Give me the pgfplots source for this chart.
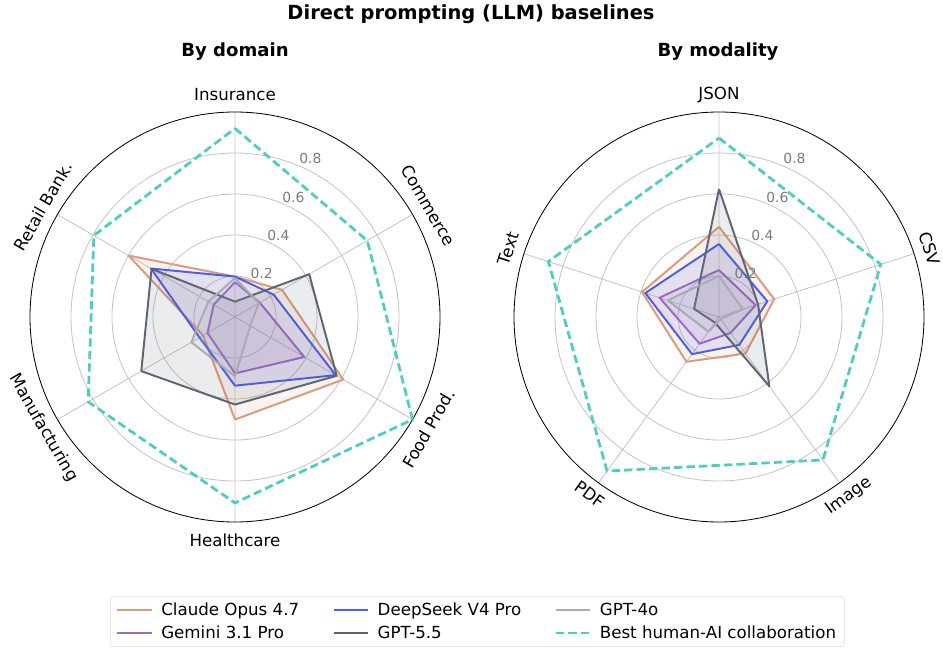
\documentclass[border=0pt]{standalone}
\usepackage{fontspec}
\setmainfont{DejaVu Sans}
\usepackage{pgfplots}
\pgfplotsset{compat=1.18}
\usepgfplotslibrary{polar}

\definecolor{claude}{HTML}{DB9A7B}
\definecolor{gemini}{HTML}{A36DBF}
\definecolor{deepseek}{HTML}{4C5CF0}
\definecolor{gptfive}{HTML}{5D6573}
\definecolor{gptfouro}{HTML}{A7AAB3}
\definecolor{best}{HTML}{4ECDC4}
\definecolor{gridgray}{HTML}{C4C4C4}
\definecolor{ticktext}{HTML}{7A7A7A}
\definecolor{legframe}{HTML}{DDDDDD}

\tikzset{
  cat/.style={font=\fontsize{12}{14}\selectfont},
  rtick/.style={font=\fontsize{10}{12}\selectfont, text=ticktext},
}
\pgfplotsset{
  radar/.style={
    scale only axis, width=295.2pt, height=295.2pt,
    xmin=0, xmax=360, ymin=0, ymax=1,
    xticklabels={}, ytick={0.2,0.4,0.6,0.8}, yticklabels={},
    major tick length=0pt,
    xmajorgrids, ymajorgrids,
    grid style={draw=gridgray, line width=0.6pt},
    x axis line style={draw=black, line width=0.6pt},
    y axis line style={draw=none},
    clip=false,
  },
  model/.style={draw=#1, line width=1.4pt, fill=#1, fill opacity=0.12, mark=none, line join=round},
  bestline/.style={draw=best, line width=2pt, dash pattern=on 6pt off 3pt, mark=none, line join=miter},
}

\begin{document}
\begin{tikzpicture}[x=0.72pt, y=0.72pt]
\path[use as bounding box] (0,0) rectangle (943,648);
\coordinate (cL) at (235,331);
\coordinate (cR) at (719,331);
\coordinate (cLeg) at (477.5,26.5);

\node[font=\bfseries\fontsize{14}{17}\selectfont] at (471,634) {Direct prompting (LLM) baselines};
\node[font=\bfseries\fontsize{13}{16}\selectfont] at (235,596) {By domain};
\node[font=\bfseries\fontsize{13}{16}\selectfont] at (718,596) {By modality};

% ---------------- By domain ----------------
\begin{polaraxis}[radar, at={(cL)}, anchor=origin,
  xtick={30,90,150,210,270,330}]
% Insurance 90, Commerce 30, Food Prod. 330, Healthcare 270, Manufacturing 210, Retail Bank. 150
\addplot[model=claude] coordinates {(90,0.197) (30,0.265) (330,0.61) (270,0.50) (210,0.18) (150,0.60) (90,0.197)};
\addplot[model=gemini] coordinates {(90,0.17) (30,0.14) (330,0.39) (270,0.275) (210,0.155) (150,0.12) (90,0.17)};
\addplot[model=deepseek] coordinates {(90,0.197) (30,0.218) (330,0.567) (270,0.335) (210,0.20) (150,0.473) (90,0.197)};
\addplot[model=gptfive] coordinates {(90,0.075) (30,0.418) (330,0.573) (270,0.427) (210,0.528) (150,0.47) (90,0.075)};
\addplot[model=gptfouro] coordinates {(90,0.19) (30,0.135) (330,0.086) (270,0.29) (210,0.246) (150,0.15) (90,0.19)};
\addplot[bestline] coordinates {(90,0.92) (30,0.745) (330,1.0) (270,0.907) (210,0.827) (150,0.795) (90,0.92)};

\node[rtick] at (axis cs:58.5,0.25) {0.2};
\node[rtick] at (axis cs:62,0.45) {0.4};
\node[rtick] at (axis cs:64,0.65) {0.6};
\node[rtick] at (axis cs:64.5,0.855) {0.8};

\node[cat] at (axis cs:90,1.085) {Insurance};
\node[cat, rotate=-60] at (axis cs:30,1.09) {Commerce};
\node[cat, rotate=60] at (axis cs:330,1.09) {Food Prod.};
\node[cat] at (axis cs:270,1.09) {Healthcare};
\node[cat, rotate=-60] at (axis cs:210,1.08) {Manufacturing};
\node[cat, rotate=60] at (axis cs:150,1.08) {Retail Bank.};
\end{polaraxis}

% ---------------- By modality ----------------
\begin{polaraxis}[radar, at={(cR)}, anchor=origin,
  xtick={18,90,162,234,306}]
% JSON 90, CSV 18, Image 306, PDF 234, Text 162
\addplot[model=claude] coordinates {(90,0.44) (18,0.283) (306,0.22) (234,0.27) (162,0.395) (90,0.44)};
\addplot[model=gemini] coordinates {(90,0.229) (18,0.188) (306,0.096) (234,0.161) (162,0.305) (90,0.229)};
\addplot[model=deepseek] coordinates {(90,0.356) (18,0.248) (306,0.168) (234,0.224) (162,0.378) (90,0.356)};
\addplot[model=gptfive] coordinates {(90,0.624) (18,0.20) (306,0.418) (234,0.034) (162,0.128) (90,0.624)};
\addplot[model=gptfouro] coordinates {(90,0.20) (18,0.122) (306,0.013) (234,0.088) (162,0.263) (90,0.20)};
\addplot[bestline] coordinates {(90,0.873) (18,0.83) (306,0.862) (234,0.929) (162,0.875) (90,0.873)};

\node[rtick] at (axis cs:58.5,0.25) {0.2};
\node[rtick] at (axis cs:62,0.45) {0.4};
\node[rtick] at (axis cs:64,0.65) {0.6};
\node[rtick] at (axis cs:64.5,0.855) {0.8};

\node[cat] at (axis cs:90,1.085) {JSON};
\node[cat, rotate=-72] at (axis cs:18,1.08) {CSV};
\node[cat, rotate=36] at (axis cs:306,1.08) {Image};
\node[cat, rotate=-36] at (axis cs:234,1.07) {PDF};
\node[cat, rotate=72] at (axis cs:162,1.08) {Text};
\end{polaraxis}

% ---------------- Legend ----------------
\begin{axis}[at={(cLeg)}, anchor=center, hide axis, scale only axis,
  width=10pt, height=10pt, xmin=0, xmax=1, ymin=0, ymax=1,
  legend columns=3, legend cell align=left,
  legend image code/.code={\draw[line width=1.5pt,#1] (0pt,0pt) -- (25pt,0pt);},
  legend style={at={(0.5,0.5)}, anchor=center, draw=legframe,
    rounded corners=2pt, fill=white,
    font=\fontsize{12}{14}\selectfont, inner xsep=4pt, inner ysep=2.5pt,
    row sep=2pt,
    /tikz/every odd column/.append style={column sep=4pt},
    /tikz/every even column/.append style={column sep=22pt}},
]
\addlegendimage{draw=claude, line width=1.5pt}
\addlegendentry{Claude Opus 4.7}
\addlegendimage{draw=deepseek, line width=1.5pt}
\addlegendentry{DeepSeek V4 Pro}
\addlegendimage{draw=gptfouro, line width=1.5pt}
\addlegendentry{GPT-4o}
\addlegendimage{draw=gemini, line width=1.5pt}
\addlegendentry{Gemini 3.1 Pro}
\addlegendimage{draw=gptfive, line width=1.5pt}
\addlegendentry{GPT-5.5}
\addlegendimage{draw=best, line width=2pt, dash pattern=on 6pt off 3pt}
\addlegendentry{Best human-AI collaboration}
\end{axis}
\end{tikzpicture}
\end{document}
